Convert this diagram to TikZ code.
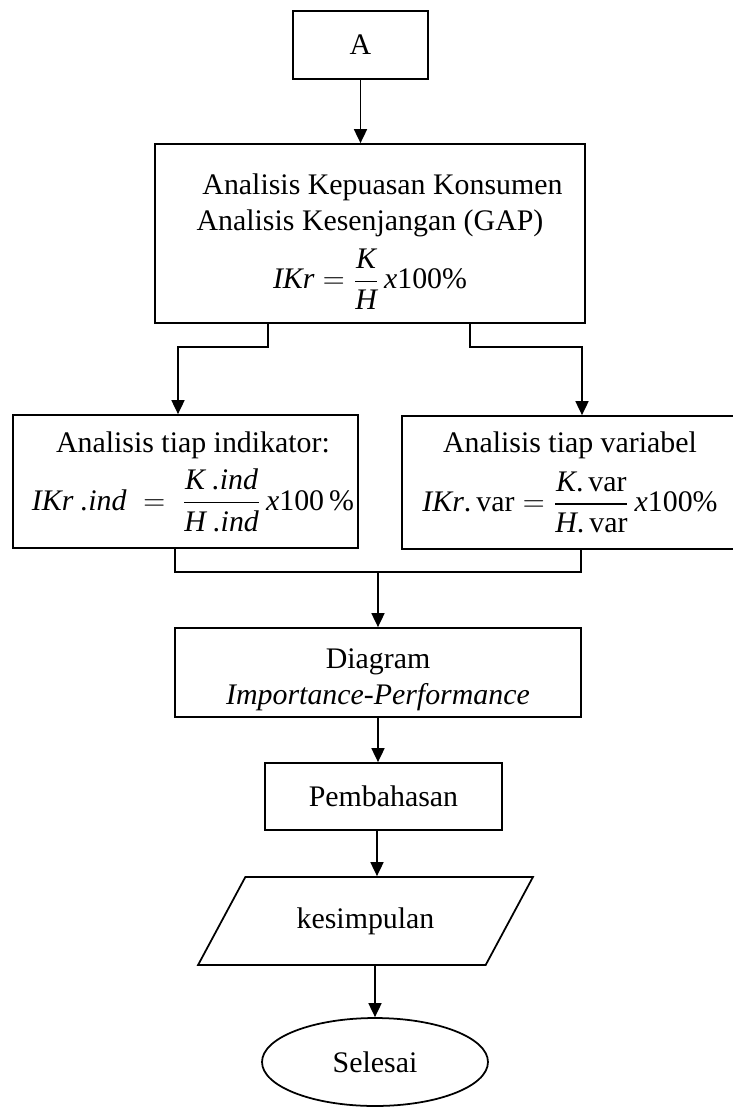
\documentclass[tikz,border=0pt]{standalone}
\usepackage{amsmath}
\usepackage{fontspec}
\setmainfont{Liberation Serif}
\usetikzlibrary{arrows.meta,shapes.geometric}
\begin{document}
\begin{tikzpicture}[x=0.02cm,y=-0.02cm,
  line width=1pt,
  every node/.style={font=\fontsize{17}{20.5}\selectfont},
  box/.style={draw,rectangle,inner sep=0pt,align=center},
  arr/.style={-{Triangle[width=0.26cm,length=0.28cm]}},
]
\useasboundingbox (0,0) rectangle (733,1109);
\node[box,minimum width=2.7cm,minimum height=1.36cm] (A) at (360.5,45) {A};
\node[box,minimum width=8.6cm,minimum height=3.58cm] (big) at (370,233.5)
  {\rule{0pt}{21pt}\hspace*{0.5cm}Analisis Kepuasan Konsumen\\ Analisis Kesenjangan (GAP)\\[6pt]
   $\textit{IKr} = \dfrac{\textit{K}}{\textit{H}}\,\textit{x}\textrm{100\%}$};
\node[box,minimum width=6.9cm,minimum height=2.66cm] (left) at (185.5,481.5)
  {\hspace*{0.3cm}Analisis tiap indikator:\\[5pt]
   \hspace*{0.3cm}$\textit{IKr .ind}\;=\;\dfrac{\textit{K .ind}}{\textit{H .ind}}\,\textit{x}\textrm{100\,\%}$};
\node[box,minimum width=6.72cm,minimum height=2.66cm] (right) at (570,482.5)
  {Analisis tiap variabel\\[6pt]
   $\textit{IKr}\textrm{.\,var} = \dfrac{\textit{K}\textrm{.\,var}}{\textit{H}\textrm{.\,var}}\,\textit{x}\textrm{100\%}$};
\node[box,minimum width=8.12cm,minimum height=1.78cm] (diag) at (378,672.5)
  {\rule{0pt}{19pt}Diagram\\ \textit{Importance-Performance}};
\node[box,minimum width=4.74cm,minimum height=1.34cm] (pemb) at (383.5,796.5) {Pembahasan};
\node[draw,trapezium,trapezium left angle=45,trapezium right angle=135,
  trapezium stretches=true,minimum width=6.7cm,minimum height=1.76cm,inner sep=0pt]
  (kes) at (365.5,921) {kesimpulan};
\node[draw,ellipse,minimum width=4.52cm,minimum height=1.76cm,inner sep=0pt]
  (sel) at (375,1062) {Selesai};

\draw[arr] (A.south) -- (A.south |- big.north);
\coordinate (jL) at (178,347);
\coordinate (jR) at (582,347);
\draw[arr] ([xshift=-2.04cm]big.south) |- (jL) -- (jL |- left.north);
\draw[arr] ([xshift=2cm]big.south) |- (jR) -- (jR |- right.north);
\coordinate (mL) at (175,572);
\coordinate (mR) at (581,572);
\draw (mL |- left.south) -- (mL) -- (mR) -- (mR |- right.south);
\draw[arr] (diag.north |- mL) -- (diag.north);
\draw[arr] (diag.south) -- (diag.south |- pemb.north);
\coordinate (p1) at ([xshift=-0.13cm]pemb.south);
\draw[arr] (p1) -- (p1 |- kes.north);
\draw[arr] (kes.south -| sel.north) -- (sel.north);
\end{tikzpicture}
\end{document}
